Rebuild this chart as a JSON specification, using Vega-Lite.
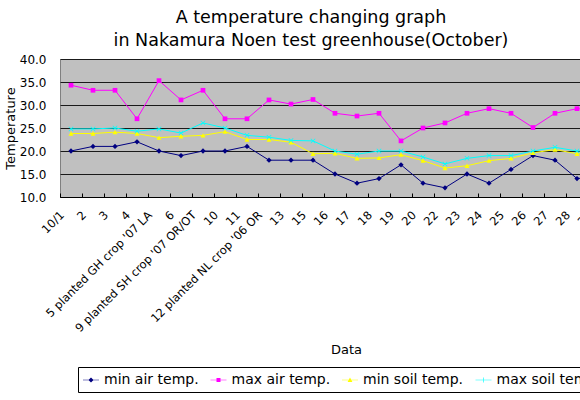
{
  "$schema": "https://vega.github.io/schema/vega-lite/v6.json",
  "width": {"step": 22},
  "height": 138,
  "padding": {"left": 4, "top": 8, "right": 5, "bottom": 5},
  "background": "white",
  "title": {
    "text": ["A temperature changing graph", "in Nakamura Noen test greenhouse(October)"],
    "font": "DejaVu Sans", "fontSize": 17.5, "fontWeight": "normal", "lineHeight": 23,
    "anchor": "middle", "dx": -35, "offset": 4, "color": "black"
  },
  "config": {
    "view": {"fill": "#C0C0C0", "stroke": "#808080"}
  },
  "data": {"values": [
    {"date": "10/1", "series": "min air temp.", "value": 20},
    {"date": "2", "series": "min air temp.", "value": 21},
    {"date": "3", "series": "min air temp.", "value": 21},
    {"date": "4", "series": "min air temp.", "value": 22},
    {"date": "5 planted GH crop '07 LA", "series": "min air temp.", "value": 20},
    {"date": "6", "series": "min air temp.", "value": 19},
    {"date": "9 planted SH crop '07 OR/OT", "series": "min air temp.", "value": 20},
    {"date": "10", "series": "min air temp.", "value": 20},
    {"date": "11", "series": "min air temp.", "value": 21},
    {"date": "12 planted NL crop '06 OR", "series": "min air temp.", "value": 18},
    {"date": "13", "series": "min air temp.", "value": 18},
    {"date": "15", "series": "min air temp.", "value": 18},
    {"date": "16", "series": "min air temp.", "value": 15},
    {"date": "17", "series": "min air temp.", "value": 13},
    {"date": "18", "series": "min air temp.", "value": 14},
    {"date": "19", "series": "min air temp.", "value": 17},
    {"date": "20", "series": "min air temp.", "value": 13},
    {"date": "22", "series": "min air temp.", "value": 12},
    {"date": "23", "series": "min air temp.", "value": 15},
    {"date": "24", "series": "min air temp.", "value": 13},
    {"date": "25", "series": "min air temp.", "value": 16},
    {"date": "26", "series": "min air temp.", "value": 19},
    {"date": "27", "series": "min air temp.", "value": 18},
    {"date": "28", "series": "min air temp.", "value": 14},
    {"date": "29", "series": "min air temp.", "value": 14.5},
    {"date": "10/1", "series": "max air temp.", "value": 34.3},
    {"date": "2", "series": "max air temp.", "value": 33.2},
    {"date": "3", "series": "max air temp.", "value": 33.2},
    {"date": "4", "series": "max air temp.", "value": 27},
    {"date": "5 planted GH crop '07 LA", "series": "max air temp.", "value": 35.3},
    {"date": "6", "series": "max air temp.", "value": 31.1},
    {"date": "9 planted SH crop '07 OR/OT", "series": "max air temp.", "value": 33.2},
    {"date": "10", "series": "max air temp.", "value": 27},
    {"date": "11", "series": "max air temp.", "value": 27},
    {"date": "12 planted NL crop '06 OR", "series": "max air temp.", "value": 31.1},
    {"date": "13", "series": "max air temp.", "value": 30.2},
    {"date": "15", "series": "max air temp.", "value": 31.2},
    {"date": "16", "series": "max air temp.", "value": 28.2},
    {"date": "17", "series": "max air temp.", "value": 27.6},
    {"date": "18", "series": "max air temp.", "value": 28.2},
    {"date": "19", "series": "max air temp.", "value": 22.2},
    {"date": "20", "series": "max air temp.", "value": 25},
    {"date": "22", "series": "max air temp.", "value": 26.1},
    {"date": "23", "series": "max air temp.", "value": 28.2},
    {"date": "24", "series": "max air temp.", "value": 29.2},
    {"date": "25", "series": "max air temp.", "value": 28.2},
    {"date": "26", "series": "max air temp.", "value": 25.1},
    {"date": "27", "series": "max air temp.", "value": 28.2},
    {"date": "28", "series": "max air temp.", "value": 29.2},
    {"date": "29", "series": "max air temp.", "value": 29},
    {"date": "10/1", "series": "min soil temp.", "value": 23.8},
    {"date": "2", "series": "min soil temp.", "value": 23.8},
    {"date": "3", "series": "min soil temp.", "value": 24.1},
    {"date": "4", "series": "min soil temp.", "value": 23.8},
    {"date": "5 planted GH crop '07 LA", "series": "min soil temp.", "value": 22.9},
    {"date": "6", "series": "min soil temp.", "value": 23.2},
    {"date": "9 planted SH crop '07 OR/OT", "series": "min soil temp.", "value": 23.4},
    {"date": "10", "series": "min soil temp.", "value": 24.2},
    {"date": "11", "series": "min soil temp.", "value": 22.5},
    {"date": "12 planted NL crop '06 OR", "series": "min soil temp.", "value": 22.5},
    {"date": "13", "series": "min soil temp.", "value": 21.9},
    {"date": "15", "series": "min soil temp.", "value": 19.4},
    {"date": "16", "series": "min soil temp.", "value": 19.5},
    {"date": "17", "series": "min soil temp.", "value": 18.4},
    {"date": "18", "series": "min soil temp.", "value": 18.5},
    {"date": "19", "series": "min soil temp.", "value": 19.2},
    {"date": "20", "series": "min soil temp.", "value": 17.9},
    {"date": "22", "series": "min soil temp.", "value": 16.3},
    {"date": "23", "series": "min soil temp.", "value": 16.8},
    {"date": "24", "series": "min soil temp.", "value": 17.9},
    {"date": "25", "series": "min soil temp.", "value": 18.4},
    {"date": "26", "series": "min soil temp.", "value": 19.6},
    {"date": "27", "series": "min soil temp.", "value": 20.3},
    {"date": "28", "series": "min soil temp.", "value": 19.4},
    {"date": "29", "series": "min soil temp.", "value": 19.5},
    {"date": "10/1", "series": "max soil temp.", "value": 24.8},
    {"date": "2", "series": "max soil temp.", "value": 24.8},
    {"date": "3", "series": "max soil temp.", "value": 25},
    {"date": "4", "series": "max soil temp.", "value": 24.3},
    {"date": "5 planted GH crop '07 LA", "series": "max soil temp.", "value": 24.8},
    {"date": "6", "series": "max soil temp.", "value": 23.9},
    {"date": "9 planted SH crop '07 OR/OT", "series": "max soil temp.", "value": 26.1},
    {"date": "10", "series": "max soil temp.", "value": 25},
    {"date": "11", "series": "max soil temp.", "value": 23.4},
    {"date": "12 planted NL crop '06 OR", "series": "max soil temp.", "value": 23},
    {"date": "13", "series": "max soil temp.", "value": 22.3},
    {"date": "15", "series": "max soil temp.", "value": 22.2},
    {"date": "16", "series": "max soil temp.", "value": 20},
    {"date": "17", "series": "max soil temp.", "value": 19.3},
    {"date": "18", "series": "max soil temp.", "value": 20},
    {"date": "19", "series": "max soil temp.", "value": 20},
    {"date": "20", "series": "max soil temp.", "value": 18.7},
    {"date": "22", "series": "max soil temp.", "value": 17.2},
    {"date": "23", "series": "max soil temp.", "value": 18.4},
    {"date": "24", "series": "max soil temp.", "value": 19},
    {"date": "25", "series": "max soil temp.", "value": 19},
    {"date": "26", "series": "max soil temp.", "value": 20},
    {"date": "27", "series": "max soil temp.", "value": 20.8},
    {"date": "28", "series": "max soil temp.", "value": 20},
    {"date": "29", "series": "max soil temp.", "value": 20}
  ]},
  "encoding": {
    "x": {
      "field": "date", "type": "ordinal", "bandPosition": 0.5,
      "scale": {
        "type": "band", "paddingInner": 0, "paddingOuter": 0,
        "domain": ["10/1", "2", "3", "4", "5 planted GH crop '07 LA", "6", "9 planted SH crop '07 OR/OT", "10", "11", "12 planted NL crop '06 OR", "13", "15", "16", "17", "18", "19", "20", "22", "23", "24", "25", "26", "27", "28", "29", "30"]
      },
      "axis": {
        "title": "Data", "titleFont": "DejaVu Sans", "titleFontSize": 13, "titleFontWeight": "normal", "titleColor": "black", "titlePadding": 10,
        "labelAngle": -45, "labelFont": "DejaVu Sans", "labelFontSize": 11.5, "labelColor": "black",
        "labelPadding": 16, "labelOffset": -13, "labelOverlap": false, "labelLimit": 300,
        "tickBand": "extent", "tickSize": -4, "tickColor": "black", "domainColor": "black", "grid": false
      }
    },
    "y": {
      "field": "value", "type": "quantitative",
      "scale": {"domain": [10, 40], "nice": false, "zero": false},
      "axis": {
        "title": "Temperature", "titleFont": "DejaVu Sans", "titleFontSize": 13, "titleFontWeight": "normal", "titleColor": "black", "titlePadding": 2,
        "values": [10, 15, 20, 25, 30, 35, 40], "format": ".1f",
        "labelFont": "DejaVu Sans", "labelFontSize": 12, "labelColor": "black", "labelPadding": 14, "labelFlush": false,
        "ticks": false, "domain": false, "grid": true, "gridColor": "#1a1a1a", "gridOpacity": 1
      }
    }
  },
  "layer": [
    {
      "mark": {"type": "point", "filled": true, "opacity": 0, "size": 4},
      "encoding": {
        "color": {
          "field": "series", "type": "nominal",
          "scale": {
            "domain": ["min air temp.", "max air temp.", "min soil temp.", "max soil temp."],
            "range": ["#000080", "#FF00FF", "#FFFF00", "#00FFFF"]
          },
          "legend": {
            "title": null, "orient": "none", "legendX": 18, "legendY": 308, "direction": "horizontal", "columns": 4,
            "strokeColor": "black", "fillColor": "white", "padding": 5,
            "labelFont": "DejaVu Sans", "labelFontSize": 14, "labelColor": "black", "labelOffset": 5,
            "symbolSize": 256, "columnPadding": 11.5, "symbolOpacity": 1, "symbolStrokeWidth": 0
          }
        },
        "shape": {
          "field": "series", "type": "nominal",
          "scale": {
            "domain": ["min air temp.", "max air temp.", "min soil temp.", "max soil temp."],
            "range": [
              "M-1,-0.04H1V0.04H-1ZM0,-0.32L0.32,0L0,0.32L-0.32,0Z",
              "M-1,-0.04H1V0.04H-1ZM-0.25,-0.25H0.25V0.25H-0.25Z",
              "M-1,-0.04H1V0.04H-1ZM-0.3,0.25L0,-0.3L0.3,0.25Z",
              "M-1,-0.04H1V0.04H-1ZM-0.04,-0.3H0.04V0.3H-0.04Z"
            ]
          },
          "legend": {
            "title": null, "orient": "none", "legendX": 18, "legendY": 308, "direction": "horizontal", "columns": 4,
            "strokeColor": "black", "fillColor": "white", "padding": 5,
            "labelFont": "DejaVu Sans", "labelFontSize": 14, "labelColor": "black", "labelOffset": 5,
            "symbolSize": 256, "columnPadding": 11.5, "symbolOpacity": 1, "symbolStrokeWidth": 0
          }
        }
      }
    },
    {
      "mark": {"type": "line", "strokeWidth": 1},
      "encoding": {
        "color": {"field": "series", "type": "nominal", "legend": null}
      }
    },
    {
      "transform": [{"filter": {"field": "series", "equal": "min air temp."}}],
      "mark": {"type": "point", "filled": true, "opacity": 1, "size": 28, "shape": "diamond", "color": "#000080"}
    },
    {
      "transform": [{"filter": {"field": "series", "equal": "max air temp."}}],
      "mark": {"type": "point", "filled": true, "opacity": 1, "size": 22, "shape": "square", "color": "#FF00FF"}
    },
    {
      "transform": [{"filter": {"field": "series", "equal": "min soil temp."}}],
      "mark": {"type": "point", "filled": true, "opacity": 1, "size": 25, "shape": "triangle-up", "color": "#FFFF00"}
    },
    {
      "transform": [{"filter": {"field": "series", "equal": "max soil temp."}}],
      "mark": {"type": "point", "filled": true, "opacity": 1, "size": 25, "shape": "M-1,-0.8L-0.8,-1L0,-0.2L0.8,-1L1,-0.8L0.2,0L1,0.8L0.8,1L0,0.2L-0.8,1L-1,0.8L-0.2,0Z", "color": "#00FFFF"}
    }
  ]
}
